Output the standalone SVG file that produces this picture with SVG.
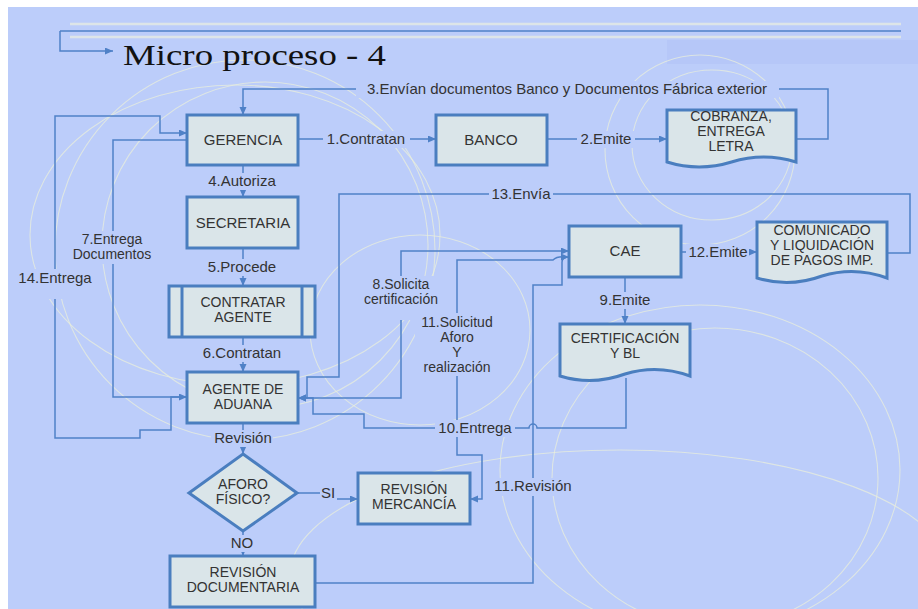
<svg xmlns="http://www.w3.org/2000/svg" width="918" height="609" viewBox="0 0 918 609">
<style>
.node{fill:#dae5e9;stroke:#4a7ebf;stroke-width:3}
.nt{font-family:"Liberation Sans",Arial,sans-serif;font-size:15px;fill:#333;text-anchor:middle}
.nt2{font-family:"Liberation Sans",Arial,sans-serif;font-size:14px;fill:#333;text-anchor:middle}
.lt{font-family:"Liberation Sans",Arial,sans-serif;font-size:15px;fill:#333;text-anchor:middle}
.lt2{font-family:"Liberation Sans",Arial,sans-serif;font-size:14px;fill:#333;text-anchor:middle}
.lb{fill:#bccdfa;stroke:none}
.c{fill:none;stroke:#4f81c7;stroke-width:1.5}
.ca{fill:none;stroke:#4f81c7;stroke-width:1.5;marker-end:url(#ar)}
.deco{fill:none;stroke:#e8eddc;stroke-width:1.1;opacity:0.75}
</style>
<defs>
<marker id="ar" markerUnits="userSpaceOnUse" markerWidth="9" markerHeight="8" refX="8" refY="3.5" orient="auto">
<path d="M0,0 L8,3.5 L0,7 z" fill="#4f81c7"/>
</marker>
</defs>
<rect x="0" y="0" width="918" height="609" fill="#ffffff"/>
<rect x="8" y="7" width="910" height="602" fill="#bccdfa"/>
<rect x="667" y="40" width="251" height="24" fill="#b6c7f8"/>
<g id="decor">
<line x1="70" y1="24" x2="901" y2="24" stroke="#dde5e8" stroke-width="2.5"/>
<line x1="70" y1="37" x2="901" y2="37" stroke="#dde5e8" stroke-width="2.5"/>
<ellipse class="deco" cx="245" cy="250" rx="190" ry="190"/>
<ellipse class="deco" cx="265" cy="245" rx="163" ry="163"/>
<ellipse class="deco" cx="235" cy="235" rx="205" ry="150"/>
<ellipse class="deco" cx="700" cy="150" rx="95" ry="95"/>
<ellipse class="deco" cx="712" cy="145" rx="80" ry="75"/>
<ellipse class="deco" cx="700" cy="470" rx="200" ry="165"/>
<ellipse class="deco" cx="715" cy="478" rx="163" ry="150"/>
<ellipse class="deco" cx="620" cy="575" rx="330" ry="125"/>
<ellipse class="deco" cx="420" cy="330" rx="110" ry="95"/>
</g>
<text x="123" y="65" font-family="Liberation Serif,'Times New Roman',serif" font-size="29" fill="#111" textLength="263" lengthAdjust="spacingAndGlyphs">Micro proceso - 4</text>
<g id="connectors">
<path class="c" d="M60,31 H901"/>
<path class="ca" d="M60,31 V51 H113"/>
<path class="ca" d="M298,139 H436"/>
<path class="ca" d="M547,139 H667"/>
<path class="ca" d="M796,139 H828 V89 H243 V115"/>
<path class="ca" d="M243,165 V197"/>
<path class="ca" d="M243,249 V286"/>
<path class="ca" d="M243,337 V372"/>
<path class="ca" d="M187,140 H113 V397 H187"/>
<path class="ca" d="M187,397 H171 V430 H140 V438 H55 V116 H160 V133 H187"/>
<path class="ca" d="M887,253 H910 V194 H339 V377 H307 V398 H298"/>
<path class="ca" d="M298,398 H401 V251 H569"/>
<path class="ca" d="M626,378 V428 H537 A4,4 0 0 0 529,428 H364 V414 H313 V398 H298"/>
<path class="ca" d="M315,583 H533 V285 H562 V262 Q562,257 569,257"/>
<path class="ca" d="M566,257 Q557,256 553,260 H457 V455 H482 V499 H470"/>
<path class="ca" d="M625,277 V324"/>
<path class="ca" d="M681,252 H757"/>
<path class="ca" d="M243,423 V454"/>
<path class="ca" d="M297,493 H328 V499 H358"/>
<path class="ca" d="M243,531 V556"/>
</g>
<g id="labels">
<rect class="lb" x="323" y="131" width="87" height="17"/><text class="lt" x="366" y="144">1.Contratan</text>
<rect class="lb" x="577" y="131" width="58" height="17"/><text class="lt" x="606" y="144">2.Emite</text>
<rect class="lb" x="356" y="81" width="423" height="17"/><text class="lt" x="567" y="94">3.Envían documentos Banco y Documentos Fábrica exterior</text>
<rect class="lb" x="204" y="173" width="76" height="17"/><text class="lt" x="242" y="186">4.Autoriza</text>
<rect class="lb" x="204" y="259" width="76" height="17"/><text class="lt" x="242" y="272">5.Procede</text>
<rect class="lb" x="198" y="345" width="88" height="17"/><text class="lt" x="242" y="358">6.Contratan</text>
<rect class="lb" x="67" y="231" width="90" height="33"/><text class="lt2" x="112" y="244">7.Entrega</text><text class="lt2" x="112" y="259">Documentos</text>
<rect class="lb" x="15" y="269" width="80" height="30"/><text class="lt" x="55" y="283">14.Entrega</text>
<rect class="lb" x="489" y="186" width="64" height="17"/><text class="lt" x="521" y="199">13.Envía</text>
<rect class="lb" x="357" y="276" width="88" height="44"/><text class="lt2" x="401" y="289">8.Solicita</text><text class="lt2" x="401" y="304">certificación</text>
<rect class="lb" x="415" y="313" width="84" height="63"/><text class="lt2" x="457" y="327">11.Solicitud</text><text class="lt2" x="457" y="342">Aforo</text><text class="lt2" x="457" y="357">Y</text><text class="lt2" x="457" y="372">realización</text>
<rect class="lb" x="435" y="420" width="80" height="17"/><text class="lt" x="475" y="433">10.Entrega</text>
<rect class="lb" x="596" y="292" width="57" height="17"/><text class="lt" x="625" y="305">9.Emite</text>
<rect class="lb" x="686" y="244" width="63" height="17"/><text class="lt" x="718" y="257">12.Emite</text>
<rect class="lb" x="492" y="478" width="83" height="18"/><text class="lt" x="533" y="491">11.Revisión</text>
<rect class="lb" x="211" y="430" width="62" height="17"/><text class="lt" x="243" y="443">Revisión</text>
<rect class="lb" x="320" y="485" width="17" height="17"/><text class="lt" x="328" y="498">SI</text>
<rect class="lb" x="228" y="535" width="28" height="17"/><text class="lt" x="242" y="548">NO</text>
</g>
<g id="gerencia"><rect class="node" x="187" y="115" width="111" height="50"/><text class="nt" x="243" y="145">GERENCIA</text></g>
<g id="banco"><rect class="node" x="436" y="115" width="111" height="50"/><text class="nt" x="491" y="145">BANCO</text></g>
<g id="cobranza"><path class="node" d="M667,110 H796 V162 Q763.75,152 731.5,162 Q699.25,172 667,162 Z"/><text class="nt2" x="731" y="121">COBRANZA,</text><text class="nt2" x="731" y="136">ENTREGA</text><text class="nt2" x="731" y="151">LETRA</text></g>
<g id="secretaria"><rect class="node" x="187" y="197" width="111" height="51"/><text class="nt" x="243" y="228">SECRETARIA</text></g>
<g id="contratar"><rect class="node" x="169" y="286" width="146" height="51"/><line class="node" x1="182" y1="286" x2="182" y2="337"/><line class="node" x1="302" y1="286" x2="302" y2="337"/><text class="nt2" x="243" y="307">CONTRATAR</text><text class="nt2" x="243" y="322">AGENTE</text></g>
<g id="agente"><rect class="node" x="187" y="372" width="111" height="51"/><text class="nt2" x="243" y="394">AGENTE DE</text><text class="nt2" x="243" y="409">ADUANA</text></g>
<g id="aforo"><path class="node" d="M243,454 L297,493 L243,531 L189,493 Z"/><text class="nt2" x="243" y="489">AFORO</text><text class="nt2" x="243" y="504">FÍSICO?</text></g>
<g id="revmerc"><rect class="node" x="358" y="473" width="112" height="51"/><text class="nt2" x="414" y="494">REVISIÓN</text><text class="nt2" x="414" y="509">MERCANCÍA</text></g>
<g id="revdoc"><rect class="node" x="170" y="556" width="145" height="51"/><text class="nt2" x="243" y="577">REVISIÓN</text><text class="nt2" x="243" y="592">DOCUMENTARIA</text></g>
<g id="cae"><rect class="node" x="569" y="226" width="112" height="51"/><text class="nt" x="625" y="256">CAE</text></g>
<g id="comunicado"><path class="node" d="M757,222 H887 V278 Q854.5,266 822,276 Q789.5,288 757,278 Z"/><text class="nt2" x="822" y="235">COMUNICADO</text><text class="nt2" x="822" y="250">Y LIQUIDACIÓN</text><text class="nt2" x="822" y="265">DE PAGOS IMP.</text></g>
<g id="certificacion"><path class="node" d="M560,324 H690 V376 Q657.5,364 625,374 Q592.5,386 560,376 Z"/><text class="nt2" x="625" y="343">CERTIFICACIÓN</text><text class="nt2" x="625" y="358">Y BL</text></g>
</svg>
